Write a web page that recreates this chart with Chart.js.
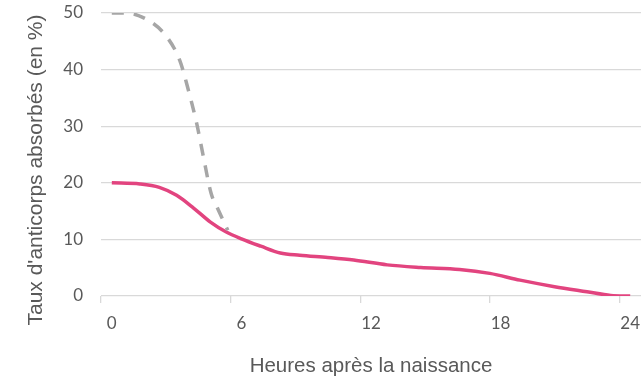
<!DOCTYPE html>
<html>
<head>
<meta charset="utf-8">
<script src="https://cdn.jsdelivr.net/npm/chart.js@4"></script>
<style>
html,body{margin:0;padding:0;background:#fff;}
#wrap{width:644px;height:378px;position:relative;}
</style>
</head>
<body>
<div id="wrap"><canvas id="c" width="644" height="378"></canvas></div>
<script>
// Data
const xTickLabels = [0, 6, 12, 18, 24];
const yTicks = [0, 10, 20, 30, 40, 50];

const pinkHours  = [0, 1.3, 2.2, 3.0, 3.8, 4.55, 5.3, 6.0, 6.9, 7.8, 8.7, 10.0, 11.2, 12.75, 14.3, 16.1, 17.5, 18.9, 20.5, 22.0, 23.1, 24];
const pinkValues = [20, 19.8, 19.2, 17.8, 15.5, 13.1, 11.3, 10.1, 8.8, 7.6, 7.2, 6.8, 6.35, 5.5, 5.05, 4.7, 4.0, 2.8, 1.65, 0.75, 0.1, 0];

const grayHours  = [0, 0.6, 1.6, 2.5, 3.15, 3.55, 3.93, 4.24, 4.6, 4.86, 5.37];
const grayValues = [50, 50, 48.9, 46, 41.6, 36.3, 30.5, 24.6, 18.1, 15.8, 11.6];

const xTitle = "Heures après la naissance";
const yTitle = "Taux d'anticorps absorbés (en %)";

const toPts = (xs, ys) => xs.map((x, i) => ({x: x, y: ys[i]}));

const yTitlePlugin = {
  id: 'yTitle',
  afterDraw(chart) {
    const ctx = chart.ctx;
    ctx.save();
    ctx.translate(36, 170);
    ctx.rotate(-Math.PI / 2);
    ctx.font = '21px "Liberation Sans", Arial, sans-serif';
    ctx.fillStyle = '#595959';
    ctx.textAlign = 'center';
    ctx.textBaseline = 'middle';
    ctx.fillText(yTitle, 0, 0);
    ctx.restore();
  }
};

new Chart(document.getElementById('c'), {
  type: 'line',
  data: {
    datasets: [
      {
        data: toPts(grayHours, grayValues),
        borderColor: '#a6a6a6',
        borderWidth: 3.5,
        borderDash: [12, 10],
        pointRadius: 0,
        cubicInterpolationMode: 'monotone',
        fill: false
      },
      {
        data: toPts(pinkHours, pinkValues),
        borderColor: '#e2447f',
        borderWidth: 3.5,
        pointRadius: 0,
        cubicInterpolationMode: 'monotone',
        fill: false
      }
    ]
  },
  options: {
    responsive: false,
    animation: false,
    events: [],
    layout: { padding: { top: 13, right: 3, left: 0, bottom: 0 } },
    plugins: { legend: { display: false }, tooltip: { enabled: false } },
    scales: {
      x: {
        type: 'linear',
        min: -0.5,
        max: 24.5,
        afterBuildTicks: (s) => { s.ticks = xTickLabels.map(v => ({ value: v - 0.5 })); },
        afterFit: (s) => { s.height = 82; s.paddingLeft = 0; s.paddingRight = 0; },
        border: { display: false },
        grid: { drawOnChartArea: false, drawTicks: true, tickLength: 7, color: '#d9d9d9', lineWidth: 1.3 },
        ticks: {
          autoSkip: false,
          maxRotation: 0,
          labelOffset: 10.8,
          padding: 10,
          color: '#595959',
          font: { family: 'Lato', size: 17 },
          callback: (v) => String(v + 0.5)
        },
        title: {
          display: true,
          text: xTitle,
          color: '#595959',
          font: { family: 'Liberation Sans', size: 20.5 },
          padding: { top: 0, bottom: -1 }
        }
      },
      y: {
        min: 0,
        max: 50,
        afterBuildTicks: (s) => { s.ticks = yTicks.map(v => ({ value: v })); },
        afterFit: (s) => { s.width = 101; s.paddingTop = 0; s.paddingBottom = 0; },
        border: { display: false },
        grid: { drawTicks: false, color: '#d9d9d9', lineWidth: 1.3 },
        ticks: {
          padding: 18,
          color: '#595959',
          font: { family: 'Lato', size: 17 }
        },
        title: { display: false }
      }
    }
  },
  plugins: [yTitlePlugin]
});
</script>
</body>
</html>
